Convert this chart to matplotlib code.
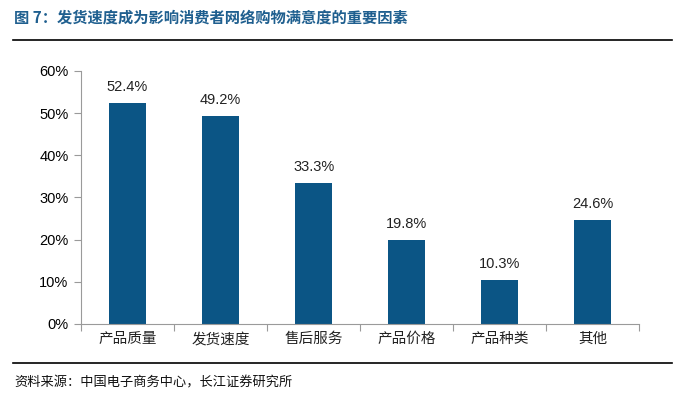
import matplotlib
matplotlib.use("Agg")
import matplotlib.pyplot as plt
from matplotlib.lines import Line2D

plt.rcParams['font.family'] = ['Noto Sans CJK SC', 'DejaVu Sans']

categories = ['产品质量', '发货速度', '售后服务', '产品价格', '产品种类', '其他']
values = [52.4, 49.2, 33.3, 19.8, 10.3, 24.6]
yticks = [0, 10, 20, 30, 40, 50, 60]

bar_color = '#0b5585'
spine_color = '#9a9a9a'

fig = plt.figure(figsize=(6.98, 3.96), dpi=100)
ax = fig.add_axes([0.116, 0.182, 0.800, 0.639])

x = list(range(len(categories)))
ax.bar(x, values, width=0.4, color=bar_color)
for xi, v in zip(x, values):
    ax.text(xi, v + 2.2, f'{v:.1f}%', ha='center', va='bottom', fontsize=10.5,
            family=['Liberation Sans', 'DejaVu Sans'], color='#222222')

ax.set_xlim(-0.5, len(categories) - 0.5)
ax.set_ylim(0, 60)
ax.set_yticks(yticks)
ax.set_yticklabels([f'{t}%' for t in yticks], fontsize=10.5,
                   family=['Liberation Sans', 'DejaVu Sans'])
ax.set_xticks([i - 0.5 for i in range(len(categories) + 1)])
ax.set_xticklabels([])
ax.set_xticks(x, minor=True)
ax.set_xticklabels(categories, minor=True, fontsize=10.5, color='#222222')
ax.tick_params(axis='x', which='minor', length=0, pad=6)
ax.tick_params(axis='x', which='major', length=5, color=spine_color, direction='out')
ax.tick_params(axis='y', length=5, color=spine_color, direction='out', pad=4)

for s in ['top', 'right']:
    ax.spines[s].set_visible(False)
for s in ['left', 'bottom']:
    ax.spines[s].set_color(spine_color)

fig.text(0.02, 0.955, '图 7：发货速度成为影响消费者网络购物满意度的重要因素',
         fontsize=11, color='#1f5f8f', fontweight='bold', va='center', ha='left')
fig.add_artist(Line2D([0.019, 0.963], [0.899, 0.899], color='black', lw=1.2,
                      transform=fig.transFigure))
fig.add_artist(Line2D([0.019, 0.963], [0.083, 0.083], color='black', lw=1.2,
                      transform=fig.transFigure))
fig.text(0.02, 0.033, '资料来源：中国电子商务中心，长江证券研究所',
         fontsize=9.5, color='#111111', va='center', ha='left')

fig.savefig('out.png', dpi=100)
